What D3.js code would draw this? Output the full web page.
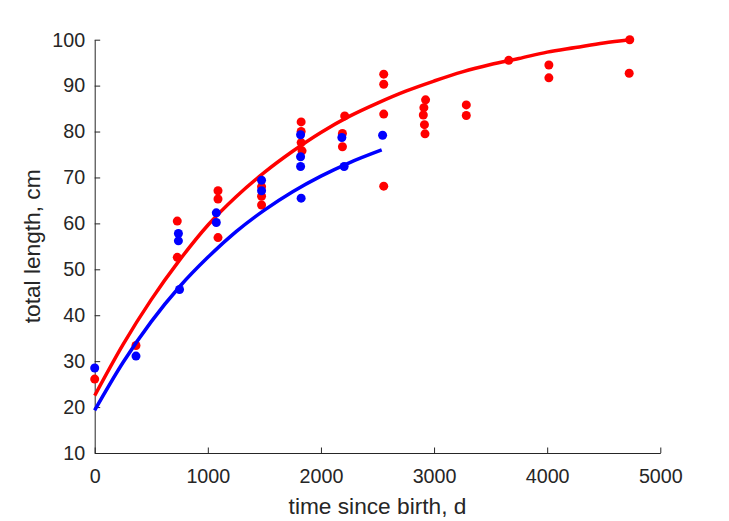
<!DOCTYPE html>
<html>
<head>
<meta charset="utf-8">
<script src="https://cdn.jsdelivr.net/npm/d3@7"></script>
<style>
  html, body { margin: 0; padding: 0; background: #fff; }
  svg { display: block; }
</style>
</head>
<body>
<svg id="chart" width="729" height="521"></svg>
<script>
// ---- data ----
const redT = [0, 365, 730, 730, 1090, 1090, 1090, 1475, 1475, 1475, 1825, 1825, 1825, 1833, 2190, 2190, 2210, 2555, 2555, 2555, 2555, 2925, 2910, 2905, 2915, 2920, 3285, 3285, 3660, 4015, 4015, 4730, 4725];
const redL = [26.1, 33.4, 60.5, 52.6, 67.1, 65.3, 56.9, 68.0, 65.9, 64.0, 82.1, 80.0, 77.6, 75.8, 79.6, 76.7, 83.4, 92.5, 90.3, 83.8, 68.1, 86.9, 85.2, 83.6, 81.5, 79.5, 85.8, 83.5, 95.5, 94.5, 91.7, 100.0, 92.7];

const blueT = [0, 365, 740, 740, 750, 1075, 1075, 1475, 1475, 1820, 1820, 1820, 1825, 2185, 2205, 2545];
const blueL = [28.5, 31.1, 57.8, 56.2, 45.6, 62.3, 60.2, 69.4, 67.1, 79.3, 74.5, 72.4, 65.5, 78.7, 72.4, 79.2];

// fitted growth curves
const redCurveT = [0, 250, 500, 750, 1000, 1250, 1500, 1750, 2000, 2250, 2500, 2750, 3000, 3250, 3500, 3750, 4000, 4250, 4500, 4732];
const redCurveL = [22.5, 33.6, 43.4, 52.0, 59.6, 65.8, 71.1, 75.7, 79.8, 83.3, 86.2, 88.8, 91.0, 93.0, 94.6, 95.9, 97.3, 98.3, 99.3, 100.0];

const blueCurveT = [0, 250, 500, 750, 1000, 1250, 1500, 1750, 2000, 2250, 2537];
const blueCurveL = [19.3, 29.7, 38.6, 46.2, 52.6, 58.2, 62.9, 66.9, 70.3, 73.2, 76.0];

const xTicks = [0, 1000, 2000, 3000, 4000, 5000];
const yTicks = [10, 20, 30, 40, 50, 60, 70, 80, 90, 100];
const xLabel = "time since birth, d";
const yLabel = "total length, cm";

// ---- layout ----
const svg = d3.select("#chart");
const mLeft = 94.7, mRight = 660.3, mTop = 39.7, mBottom = 453;
const axisColor = "#262626";
const font = "'Liberation Sans', Arial, Helvetica, sans-serif";

const x = d3.scaleLinear().domain([0, 5000]).range([mLeft, mRight]);
const y = d3.scaleLinear().domain([10, 100]).range([mBottom, mTop]);

// axes
const gx = svg.append("g")
  .attr("transform", `translate(0,${mBottom})`)
  .call(d3.axisBottom(x).tickValues(xTicks).tickFormat(d3.format("d"))
        .tickSizeInner(-5.5).tickSizeOuter(0).tickPadding(16));
const gy = svg.append("g")
  .attr("transform", `translate(${mLeft},0)`)
  .call(d3.axisLeft(y).tickValues(yTicks).tickFormat(d3.format("d"))
        .tickSizeInner(-5.5).tickSizeOuter(0).tickPadding(9.5));

[gx, gy].forEach(g => {
  g.select(".domain").attr("stroke", axisColor).attr("stroke-width", 1);
  g.selectAll(".tick line").attr("stroke", axisColor).attr("stroke-width", 1);
  g.selectAll(".tick text")
    .attr("fill", axisColor)
    .style("font-family", font)
    .style("font-size", "19.7px");
});

// axis labels
svg.append("text")
  .attr("x", (mLeft + mRight) / 2)
  .attr("y", 514)
  .attr("text-anchor", "middle")
  .attr("fill", axisColor)
  .style("font-family", font)
  .style("font-size", "22.7px")
  .text(xLabel);

svg.append("text")
  .attr("transform", `translate(40,${(mTop + mBottom) / 2}) rotate(-90)`)
  .attr("text-anchor", "middle")
  .attr("fill", axisColor)
  .style("font-family", font)
  .style("font-size", "22.7px")
  .text(yLabel);

// marks
const line = d3.line()
  .x(d => x(d[0]))
  .y(d => y(d[1]))
  .curve(d3.curveMonotoneX);

const redPts = redT.map((t, i) => [t, redL[i]]);
const bluePts = blueT.map((t, i) => [t, blueL[i]]);
const redCurve = redCurveT.map((t, i) => [t, redCurveL[i]]);
const blueCurve = blueCurveT.map((t, i) => [t, blueCurveL[i]]);

svg.append("g").selectAll("circle").data(redPts).join("circle")
  .attr("cx", d => x(d[0])).attr("cy", d => y(d[1])).attr("r", 4.5)
  .attr("fill", "#ff0000");

svg.append("path").datum(redCurve)
  .attr("d", line).attr("fill", "none")
  .attr("stroke", "#ff0000").attr("stroke-width", 3.5);

svg.append("g").selectAll("circle").data(bluePts).join("circle")
  .attr("cx", d => x(d[0])).attr("cy", d => y(d[1])).attr("r", 4.5)
  .attr("fill", "#0000ff");

svg.append("path").datum(blueCurve)
  .attr("d", line).attr("fill", "none")
  .attr("stroke", "#0000ff").attr("stroke-width", 3.5);
</script>
</body>
</html>
